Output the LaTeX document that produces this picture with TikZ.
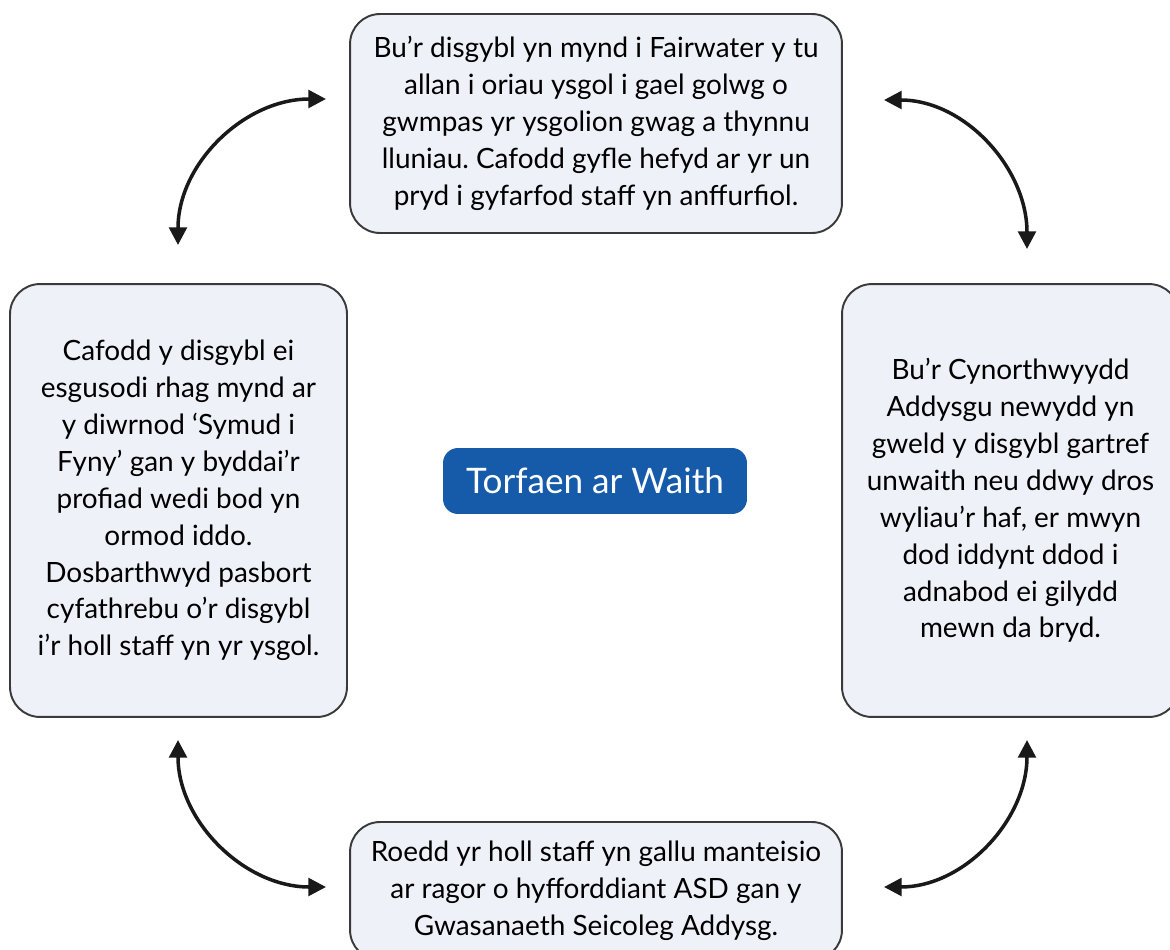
\documentclass[tikz,border=0pt]{standalone}
\usepackage{fontspec}
\setmainfont{Lato}
\usetikzlibrary{arrows.meta}
\definecolor{boxfill}{HTML}{EEF1F8}
\definecolor{boxline}{HTML}{3A3A3A}
\definecolor{titleblue}{HTML}{155BAA}
\frenchspacing
\tikzset{
  infobox/.style={draw=boxline,line width=1.1pt,fill=boxfill,rounded corners=0.6cm,
    align=center,inner sep=0pt,font=\fontsize{15.9}{21}\selectfont},
  loop/.style={{Triangle[length=10pt,width=10pt]}-{Triangle[length=10pt,width=10pt]},
    line width=2pt,draw=black!90}
}
\begin{document}
\begin{tikzpicture}[x=0.02cm,y=-0.02cm]
\useasboundingbox (0,0) rectangle (1170,950);
% boxes
\node[infobox,minimum width=9.84cm,minimum height=4.38cm] (top) at (596,123.5)
  {Bu’r disgybl yn mynd i Fairwater y tu\\allan i oriau ysgol i gael golwg o\\gwmpas yr ysgolion gwag a thynnu\\lluniau. Cafodd gyfle hefyd ar yr un\\pryd i gyfarfod staff yn anffurfiol.};
\node[infobox,minimum width=6.74cm,minimum height=8.66cm] (left) at (178.5,500.5)
  {Cafodd y disgybl ei\\esgusodi rhag mynd ar\\y diwrnod ‘Symud i\\Fyny’ gan y byddai’r\\profiad wedi bod yn\\ormod iddo.\\Dosbarthwyd pasbort\\cyfathrebu o’r disgybl\\i’r holl staff yn yr ysgol.};
\node[infobox,minimum width=6.74cm,minimum height=8.66cm] (right) at (1010.5,500.5)
  {Bu’r Cynorthwyydd\\Addysgu newydd yn\\gweld y disgybl gartref\\unwaith neu ddwy dros\\wyliau’r haf, er mwyn\\dod iddynt ddod i\\adnabod ei gilydd\\mewn da bryd.};
\node[infobox,minimum width=9.84cm,minimum height=2.76cm] (bottom) at (596,891)
  {Roedd yr holl staff yn gallu manteisio\\ar ragor o hyfforddiant ASD gan y\\Gwasanaeth Seicoleg Addysg.};
% title
\node[fill=titleblue,rounded corners=0.3cm,minimum width=6.08cm,minimum height=1.32cm,
  text=white,font=\fontsize{20}{24}\selectfont] (title) at (595,481) {Torfaen ar Waith};
% arrow ends
\coordinate (a1) at (178,245);
\coordinate (a2) at (326,99);
\coordinate (b1) at (884,100);
\coordinate (b2) at (1027,249);
\coordinate (c1) at (1027,740);
\coordinate (c2) at (884,887);
\coordinate (d1) at (178,740);
\coordinate (d2) at (326,887);
% arrows
\draw[loop] (a1) to[out=90,in=180] (a2);
\draw[loop] (b1) to[out=0,in=90] (b2);
\draw[loop] (c1) to[out=-90,in=0] (c2);
\draw[loop] (d1) to[out=-90,in=180] (d2);
\end{tikzpicture}
\end{document}
